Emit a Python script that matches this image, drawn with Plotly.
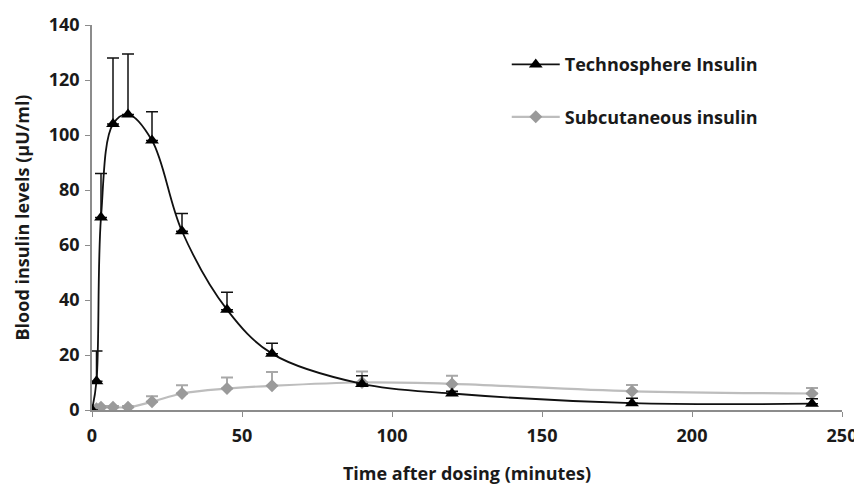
import plotly.graph_objects as go

times = [0, 1.5, 3, 7, 12, 20, 30, 45, 60, 90, 120, 180, 240]
techno = [0, 10.5, 70, 104, 107.5, 98, 65, 36.5, 20.5, 9.5, 6, 2.5, 2.3]
techno_err = [0, 11, 16, 24, 22, 10.5, 6.5, 6.3, 3.8, 3, 0.8, 1.8, 1.8]
subq = [0, 0.5, 1, 1, 1, 3, 6, 7.8, 8.8, 10, 9.5, 6.8, 6]
subq_err = [0.5, 0.5, 0.5, 0.5, 0.5, 2, 3, 4, 5, 4, 3, 2.3, 2]

x_ticks = [0, 50, 100, 150, 200, 250]
y_ticks = [0, 20, 40, 60, 80, 100, 120, 140]

font_family = "Open Sans"

fig = go.Figure()
fig.add_trace(go.Scatter(
    x=times, y=subq, name="Subcutaneous insulin", legendgroup="b", legendrank=2,
    mode="lines+markers", line=dict(color="#bdbdbd", width=2.2, shape="spline", smoothing=1),
    marker=dict(symbol="diamond", size=10, color="#9a9a9a"),
    error_y=dict(type="data", symmetric=False, array=subq_err, arrayminus=[0]*len(subq_err),
                 color="#a8a8a8", thickness=2, width=6),
))
fig.add_trace(go.Scatter(
    x=times, y=techno, name="Technosphere Insulin", legendgroup="a", legendrank=1,
    mode="lines+markers", line=dict(color="#111111", width=1.8, shape="spline", smoothing=1),
    marker=dict(symbol="triangle-up", size=12, color="#000000"),
    error_y=dict(type="data", symmetric=False, array=techno_err, arrayminus=[0]*len(techno_err),
                 color="#111111", thickness=1.5, width=6),
))

fig.update_layout(
    width=862, height=490,
    margin=dict(l=84, r=28, t=17, b=88),
    plot_bgcolor="white", paper_bgcolor="white",
    font=dict(family=font_family, size=17, color="#1a1a1a", weight=700),
    showlegend=True,
    legend=dict(x=0.553, y=0.945, xanchor="left", yanchor="top", tracegroupgap=26,
                itemwidth=48, font=dict(size=18, weight=700), bgcolor="rgba(0,0,0,0)"),
    xaxis=dict(range=[0, 250], tickvals=x_ticks, showline=True, linecolor="#8c8c8c", linewidth=1.5,
               ticks="outside", ticklen=5, tickcolor="#8c8c8c", showgrid=False, zeroline=False,
               automargin=False, ticklabelstandoff=4,
               title=dict(text="Time after dosing (minutes)", standoff=21, font=dict(size=18, weight=700)),
               tickfont=dict(size=18, weight=700)),
    yaxis=dict(range=[0, 140], tickvals=y_ticks, showline=True, linecolor="#8c8c8c", linewidth=1.5,
               ticks="outside", ticklen=5, tickcolor="#8c8c8c", showgrid=False, zeroline=False,
               automargin=False, ticklabelstandoff=2,
               title=dict(text="Blood insulin levels (µU/ml)", standoff=14, font=dict(size=18, weight=700)),
               tickfont=dict(size=18, weight=700)),
)

fig.write_html("out.html")
